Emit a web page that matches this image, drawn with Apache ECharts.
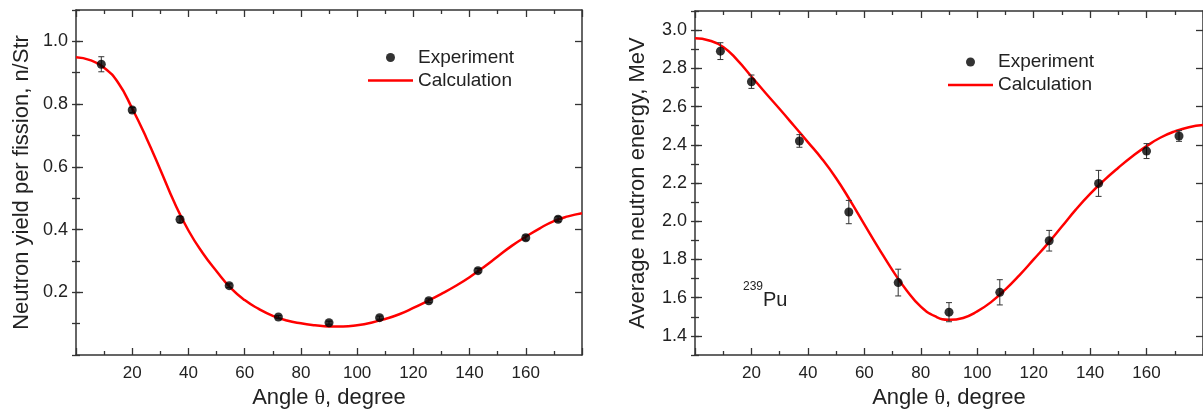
<!DOCTYPE html>
<html>
<head>
<meta charset="utf-8">
<script src="https://cdn.jsdelivr.net/npm/echarts@6/dist/echarts.min.js"></script>
<style>
html,body{margin:0;padding:0;background:#fff;}
#c{width:1203px;height:409px;}
</style>
</head>
<body>
<div id="c"></div>
<script>
// ---- data ----
const calcAngles = [0,5,10,15,20,25,30,35,40,45,50,55,60,65,70,75,80,85,90,95,100,105,110,115,120,125,130,135,140,145,150,155,160,165,170,175,180];
const yieldCalc = [0.949,0.940,0.916,0.868,0.786,0.693,0.591,0.486,0.397,0.326,0.267,0.214,0.175,0.147,0.125,0.110,0.101,0.095,0.091,0.091,0.095,0.103,0.115,0.130,0.150,0.172,0.195,0.220,0.248,0.280,0.314,0.348,0.377,0.404,0.427,0.442,0.452];
const energyCalc = [2.957,2.946,2.912,2.843,2.757,2.671,2.587,2.501,2.414,2.326,2.225,2.108,1.984,1.861,1.743,1.638,1.553,1.503,1.484,1.494,1.528,1.578,1.643,1.718,1.800,1.883,1.972,2.062,2.143,2.215,2.280,2.340,2.393,2.438,2.470,2.492,2.503];

const expAngles = [9,20,37,54.5,72,90,108,125.5,143,160,171.5];
const yieldExp = [0.927,0.781,0.432,0.221,0.121,0.103,0.119,0.173,0.269,0.374,0.433];
const yieldErr = [0.024,0.008,0.010,0.006,0.005,0.005,0.005,0.006,0.007,0.008,0.008];
const energyExp = [2.890,2.730,2.420,2.048,1.679,1.524,1.628,1.898,2.198,2.367,2.446];
const energyErr = [0.044,0.035,0.033,0.061,0.070,0.050,0.066,0.054,0.068,0.039,0.028];

const yieldTicks = [0.2,0.4,0.6,0.8,1.0];
const energyTicks = [1.4,1.6,1.8,2.0,2.2,2.4,2.6,2.8,3.0];

const xTitle = 'Angle {t|\u03b8}, degree';
const yieldTitle = 'Neutron yield per fission, n/Str';
const energyTitle = 'Average neutron energy, MeV';

// ---- styling ----
const FONT = '"Liberation Sans", Arial, sans-serif';
const AX = '#333';
const TXT = '#222';

function pairs(xs, ys) { return xs.map((x, i) => [x, ys[i]]); }
function triples(xs, ys, es) { return xs.map((x, i) => [x, ys[i], es[i]]); }

function xAxes(g) {
  const base = {
    gridIndex: g, type: 'value', min: 0, max: 180, interval: 20,
    axisLine: { show: true, onZero: false, lineStyle: { color: AX, width: 1.5 } },
    axisTick: { show: true, inside: true, length: 7, lineStyle: { color: AX, width: 1.3 } },
    minorTick: { show: true, splitNumber: 2, length: 4, lineStyle: { color: AX, width: 1.3 } },
    splitLine: { show: false }, minorSplitLine: { show: false }
  };
  return [
    Object.assign({}, base, {
      position: 'bottom',
      axisLabel: { show: true, margin: 10, color: TXT, fontSize: 17, fontFamily: FONT,
        formatter: v => (v === 0 || v === 180) ? '' : String(v) },
      name: xTitle, nameLocation: 'middle', nameGap: 25,
      nameTextStyle: { color: TXT, fontSize: 22, fontFamily: FONT,
        rich: { t: { fontSize: 22, fontFamily: '"Liberation Serif", "DejaVu Serif", serif', color: TXT } } }
    }),
    Object.assign({}, base, { position: 'top', axisLabel: { show: false } })
  ];
}

function yAxes(g, min, max, majors, title, gap) {
  const line = { show: true, onZero: false, lineStyle: { color: AX, width: 1.5 } };
  const mk = (pos, labels) => ({
    gridIndex: g, type: 'value', position: pos, min: min, max: max,
    axisLine: line,
    axisTick: { show: true, inside: true, length: 7, customValues: majors, lineStyle: { color: AX, width: 1.3 } },
    axisLabel: labels ? { show: true, margin: 8, color: TXT, fontSize: 18, fontFamily: FONT,
      customValues: majors, formatter: v => v.toFixed(1) } : { show: false },
    splitLine: { show: false },
    name: labels ? title : '', nameLocation: 'middle', nameGap: gap,
    nameTextStyle: { color: TXT, fontSize: 22, fontFamily: FONT }
  });
  const mkMinor = (pos) => ({
    gridIndex: g, type: 'value', position: pos, min: min, max: max, interval: 0.1,
    axisLine: { show: false },
    axisTick: { show: true, inside: true, length: 4, lineStyle: { color: AX, width: 1.3 } },
    axisLabel: { show: false }, splitLine: { show: false }
  });
  return [mk('left', true), mkMinor('left'), mk('right', false), mkMinor('right')];
}

function errRender(params, api) {
  const x = api.value(0), y = api.value(1), e = api.value(2);
  const top = api.coord([x, y + e]);
  const bot = api.coord([x, y - e]);
  const s = { stroke: '#333', lineWidth: 1 };
  const w = 3;
  return {
    type: 'group',
    children: [
      { type: 'line', shape: { x1: top[0], y1: top[1], x2: bot[0], y2: bot[1] }, style: s },
      { type: 'line', shape: { x1: top[0] - w, y1: top[1], x2: top[0] + w, y2: top[1] }, style: s },
      { type: 'line', shape: { x1: bot[0] - w, y1: bot[1], x2: bot[0] + w, y2: bot[1] }, style: s }
    ]
  };
}

function seriesFor(g, calc, exp, err) {
  const xi = g * 2, yi = g * 4;
  return [
    { name: 'Calculation', type: 'line', xAxisIndex: xi, yAxisIndex: yi,
      data: pairs(calcAngles, calc), smooth: 0.5, symbol: 'none', showSymbol: false,
      lineStyle: { color: '#ff0000', width: 2.5 }, itemStyle: { color: '#ff0000' }, z: 2, silent: true },
    { name: 'errors', type: 'custom', xAxisIndex: xi, yAxisIndex: yi,
      data: triples(expAngles, exp, err), renderItem: errRender,
      encode: { x: 0, y: 1 }, z: 3, silent: true },
    { name: 'Experiment', type: 'scatter', xAxisIndex: xi, yAxisIndex: yi,
      data: pairs(expAngles, exp), symbol: 'circle', symbolSize: 9,
      itemStyle: { color: '#000' }, z: 4, silent: true }
  ];
}

const legendBase = {
  orient: 'vertical', itemWidth: 45, itemHeight: 9, itemGap: 4, padding: 0,
  selectedMode: false,
  textStyle: { color: TXT, fontSize: 19, fontFamily: FONT, lineHeight: 19 },
  data: [
    { name: 'Experiment', icon: 'circle' },
    { name: 'Calculation', icon: 'path://M0,0L90,0L90,5L0,5Z', itemStyle: { color: '#ff0000' } }
  ]
};

const chart = echarts.init(document.getElementById('c'), null, { renderer: 'canvas' });
chart.setOption({
  animation: false,
  backgroundColor: '#fff',
  grid: [
    { left: 76, top: 10, width: 506, height: 345, containLabel: false, outerBoundsMode: 'none' },
    { left: 695, top: 11, width: 508, height: 344, containLabel: false, outerBoundsMode: 'none' }
  ],
  xAxis: xAxes(0).concat(xAxes(1)),
  yAxis: yAxes(0, 0, 1.1, yieldTicks, yieldTitle, 43).concat(yAxes(1, 1.3, 3.1, energyTicks, energyTitle, 46)),
  legend: [
    Object.assign({}, legendBase, { left: 368, top: 48 }),
    Object.assign({}, legendBase, { left: 948, top: 52.5 })
  ],
  graphic: [
    { type: 'text', left: 743, top: 281, style: { text: '239', fontSize: 12, fontFamily: FONT, fill: TXT } },
    { type: 'text', left: 763, top: 290, style: { text: 'Pu', fontSize: 20, fontFamily: FONT, fill: TXT } }
  ],
  series: seriesFor(0, yieldCalc, yieldExp, yieldErr).concat(seriesFor(1, energyCalc, energyExp, energyErr))
});
</script>
</body>
</html>
